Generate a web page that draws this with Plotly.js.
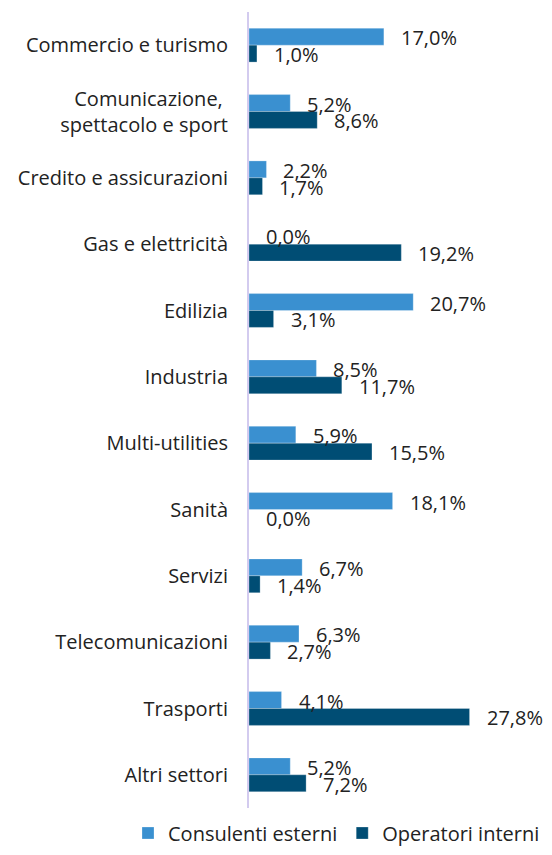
<!DOCTYPE html>
<html>
<head>
<meta charset="utf-8">
<script src="https://cdn.plot.ly/plotly-3.0.1.min.js"></script>
<style>html,body{margin:0;padding:0;background:#fff;}#chart{width:552px;height:855px;}</style>
</head>
<body>
<div id="chart"></div>
<script>
const categories = [
  "Commercio e turismo",
  "Comunicazione, <br>spettacolo e sport",
  "Credito e assicurazioni",
  "Gas e elettricità",
  "Edilizia",
  "Industria",
  "Multi-utilities",
  "Sanità",
  "Servizi",
  "Telecomunicazioni",
  "Trasporti",
  "Altri settori"
];
const consulentiEsterni = [17.0, 5.2, 2.2, 0.0, 20.7, 8.5, 5.9, 18.1, 6.7, 6.3, 4.1, 5.2];
const operatoriInterni = [1.0, 8.6, 1.7, 19.2, 3.1, 11.7, 15.5, 0.0, 1.4, 2.7, 27.8, 7.2];
const seriesNames = ["Consulenti esterni", "Operatori interni"];

const FONT = "'Open Sans', Lato, sans-serif";
const FS = 20;
const colors = ["#3a90d0", "#004d74"];
const bargap = 0.49;
const barW = (1 - bargap) / 2;

const W = 552, H = 855, TOP = 12;
const plotH = H - TOP;

const fmt = v => v.toFixed(1).replace(".", ",") + "%";

const traces = [consulentiEsterni, operatoriInterni].map((vals, k) => ({
  type: "bar",
  orientation: "h",
  name: seriesNames[k],
  y: categories,
  x: vals,
  marker: {color: colors[k], line: {color: "rgba(255,255,255,0.5)", width: 0.5}},
  hoverinfo: "skip"
}));

const annotations = [];
[consulentiEsterni, operatoriInterni].forEach((vals, k) => {
  const off = (k === 0 ? -1 : 1) * barW / 2;
  vals.forEach((v, i) => {
    annotations.push({
      x: v, y: i + off, xref: "x", yref: "y",
      text: fmt(v), showarrow: false,
      xanchor: "left", yanchor: "middle", xshift: 15, yshift: -1,
      font: {family: FONT, size: FS, color: "#222"}
    });
  });
});

const layout = {
  width: W, height: H,
  margin: {l: 0, r: 0, t: TOP, b: 0},
  paper_bgcolor: "#fff", plot_bgcolor: "#fff",
  barmode: "group",
  bargap: bargap,
  bargroupgap: 0,
  font: {family: FONT, size: FS, color: "#222"},
  xaxis: {
    domain: [249 / W, 487 / W],
    range: [0, 30], showgrid: false, zeroline: false, showticklabels: false, showline: false, fixedrange: true
  },
  yaxis: {
    domain: [(H - 808) / plotH, 1],
    type: "category", autorange: "reversed",
    showline: true, linecolor: "#d3cbef", linewidth: 2,
    showgrid: false, zeroline: false,
    ticks: "outside", ticklen: 15, tickcolor: "rgba(0,0,0,0)",
    tickfont: {family: FONT, size: FS, color: "#222"}
  },
  showlegend: true,
  legend: {
    orientation: "h", xref: "paper", yref: "paper",
    x: 128 / W, xanchor: "left", y: (H - 833) / plotH, yanchor: "middle",
    font: {family: FONT, size: FS, color: "#222"},
    itemwidth: 30, tracegroupgap: 0
  },
  annotations: annotations
};

Plotly.newPlot("chart", traces, layout, {displayModeBar: false, staticPlot: true});
</script>
</body>
</html>
